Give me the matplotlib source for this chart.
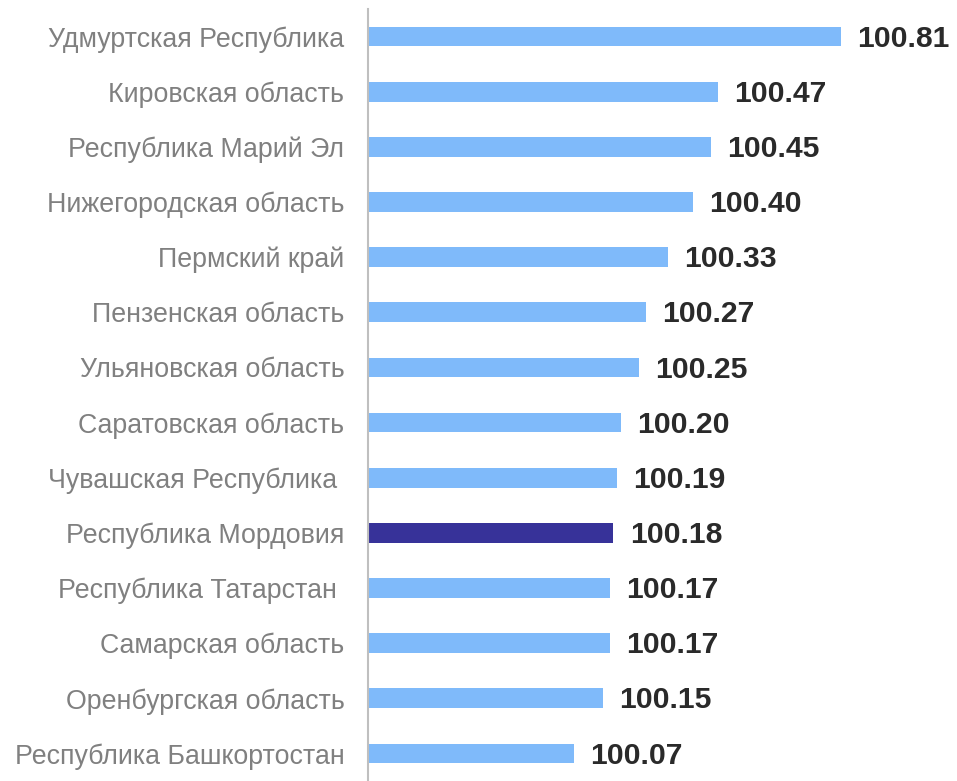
import matplotlib.pyplot as plt

plt.rcParams['font.family'] = ['Liberation Sans', 'DejaVu Sans']

regions = ['Удмуртская Республика', 'Кировская область', 'Республика Марий Эл',
           'Нижегородская область', 'Пермский край', 'Пензенская область',
           'Ульяновская область', 'Саратовская область', 'Чувашская Республика ',
           'Республика Мордовия', 'Республика Татарстан ', 'Самарская область',
           'Оренбургская область', 'Республика Башкортостан']
values = [100.81, 100.47, 100.45, 100.40, 100.33, 100.27, 100.25,
          100.20, 100.19, 100.18, 100.17, 100.17, 100.15, 100.07]
highlight = 'Республика Мордовия'
base = 99.5

fig = plt.figure(figsize=(9.57, 7.81), dpi=100)
ax = fig.add_axes([368 / 957, 0, 1 - 368 / 957, 772 / 781])

pos = list(range(len(regions)))[::-1]
colors = ['#373299' if r == highlight else '#7fbafa' for r in regions]
ax.barh(pos, [v - base for v in values], left=base, height=0.36, color=colors)

# value labels sit a touch below bar centre, as in the original
for p, v in zip(pos, values):
    ax.text(v + 0.045, p - 0.04, f'{v:.2f}', va='center', ha='left',
            fontsize=21.7, fontweight='bold', color='#2a2a2a')

ax.set_xlim(base, base + (957 - 368) / 361)
ax.set_ylim(-0.5, len(regions) - 0.5)
ax.set_yticks(pos)
ax.set_yticklabels(regions, fontsize=19.3, color='#808080')
ax.tick_params(axis='y', length=0, pad=17)
ax.set_xticks([])
for s in ['top', 'right', 'bottom']:
    ax.spines[s].set_visible(False)
ax.spines['left'].set_color('#bfbfbf')
ax.spines['left'].set_linewidth(1.5)

fig.savefig('out.png', dpi=100)
